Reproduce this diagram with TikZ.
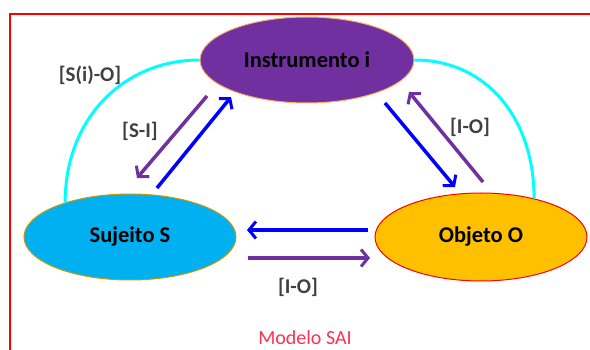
\documentclass[tikz,border=0pt]{standalone}
\usepackage{fontspec}
\setmainfont{Carlito}
\usetikzlibrary{shapes.geometric,arrows.meta}
\definecolor{purp}{HTML}{7030A0}
\definecolor{skyb}{HTML}{00B0F0}
\definecolor{gold}{HTML}{FFC000}
\definecolor{arcc}{HTML}{00FFFF}
\definecolor{lblc}{HTML}{404040}
\definecolor{framec}{HTML}{FF0000}
\definecolor{titlec}{HTML}{FF3050}
\begin{document}
\begin{tikzpicture}[x=1pt,y=-1pt,
  ell/.style={ellipse, inner sep=0pt, minimum width=212pt, minimum height=86pt, line width=1pt,
    font=\bfseries\fontsize{22.5}{26}\selectfont, text=black},
  lbl/.style={font=\bfseries\fontsize{21}{25}\selectfont, text=lblc},
  arcline/.style={draw=arcc, line width=3pt},
  conn/.style={line width=3.5pt, -{Straight Barb[length=7pt,width=17pt,line width=3pt]}},
  bluec/.style={conn, draw=blue},
  purpc/.style={conn, draw=purp}]
\useasboundingbox (0,0) rectangle (590,350);
\draw[framec, line width=1.5pt] (10,350) -- (10,14) -- (590,14);
\node[ell, draw=orange!60, fill=purp, minimum width=214pt] (I) at (307,60) {Instrumento i};
\node[ell, draw=gold!80!black, fill=skyb] (S) at (130,237) {Sujeito S};
\node[ell, draw=red, fill=gold, minimum height=88pt] (O) at (481,237) {Objeto O};
\draw[arcline] (S.152) .. controls +(0,-85) and +(-75,0) .. (I.west);
\draw[arcline] (I.east) .. controls +(72,0) and +(0,-80) .. (O.36);
% arrow end points
\coordinate (a1) at (207,96);  \coordinate (a2) at (137,178);
\coordinate (b1) at (157,188); \coordinate (b2) at (231,97);
\coordinate (c1) at (385,103); \coordinate (c2) at (455,187);
\coordinate (d1) at (483,182); \coordinate (d2) at (409,92);
\coordinate (e1) at (368,230); \coordinate (e2) at (247,230);
\coordinate (f1) at (248,258); \coordinate (f2) at (370,258);
\draw[purpc] (a1) -- (a2);
\draw[bluec] (b1) -- (b2);
\draw[bluec] (c1) -- (c2);
\draw[purpc] (d1) -- (d2);
\draw[bluec] (e1) -- (e2);
\draw[purpc] (f1) -- (f2);
\node[lbl] (l1) at (90,75) {[S(i)-O]};
\node[lbl] (l2) at (140,131) {[S-I]};
\node[lbl] (l3) at (470,127) {[I-O]};
\node[lbl] (l4) at (298,287) {[I-O]};
\node[font=\fontsize{20}{24}\selectfont, text=titlec] (t) at (305,338) {Modelo SAI};
\end{tikzpicture}
\end{document}
